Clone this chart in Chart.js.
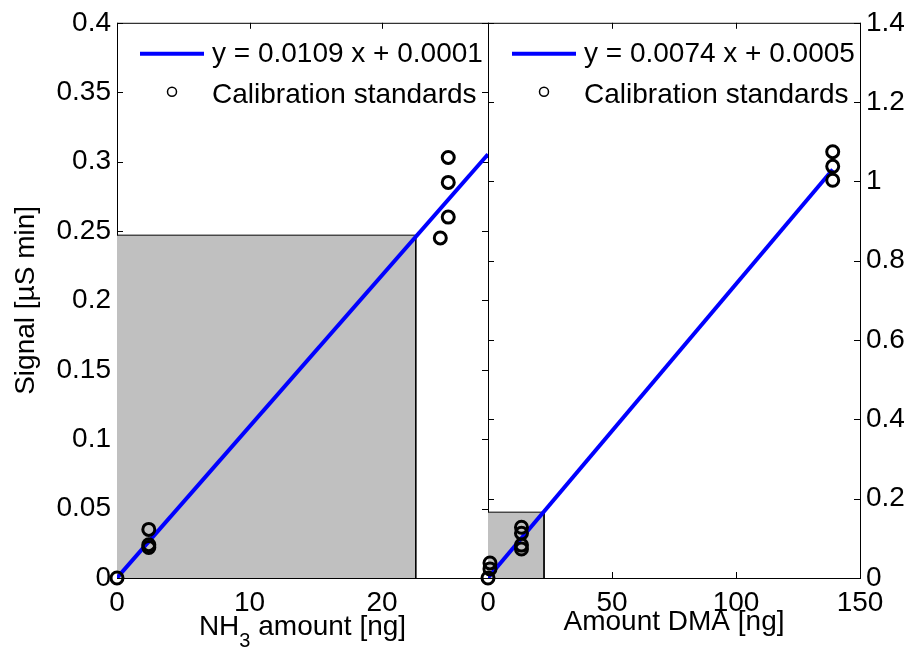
<!DOCTYPE html>
<html>
<head>
<meta charset="utf-8">
<script src="https://cdn.jsdelivr.net/npm/chart.js@4.4.0/dist/chart.umd.min.js"></script>
<style>
  html, body { margin: 0; padding: 0; background: #fff; }
  #wrap { position: relative; width: 910px; height: 649px; }
  canvas { position: absolute; left: 0; top: 0; }
</style>
</head>
<body>
<div id="wrap">
  <canvas id="nh3Chart" width="910" height="649"></canvas>
  <canvas id="dmaChart" width="910" height="649"></canvas>
</div>
<script>
/* global Chart */
const FONTFAMILY = '"Liberation Sans", Arial, Helvetica, sans-serif';
const FONTSIZE = 28;
const TICKLEN = 6;

// NH3 panel (left axis)
const nh3X = [0, 2.4, 2.4, 2.4, 25.0, 25.0, 25.0, 24.4];
const nh3Y = [0, 0.035, 0.024, 0.022, 0.303, 0.285, 0.260, 0.245];
const nh3FitX = [0, 28];
const nh3FitY = [0.0001, 0.3053];
const nh3RangeX = [0, 22.55, 22.55];
const nh3RangeY = [0.247, 0.247, 0];
const nh3XTicks = [0, 10, 20];
const nh3YTicks = [0, 0.05, 0.1, 0.15, 0.2, 0.25, 0.3, 0.35, 0.4];
const nh3FitLabel = 'y = 0.0109 x + 0.0001';

// DMA panel (right axis)
const dmaX = [0, 0.8, 0.8, 13.5, 13.5, 13.5, 13.5, 139, 139, 139];
const dmaY = [0, 0.038, 0.023, 0.128, 0.113, 0.083, 0.073, 1.075, 1.038, 1.003];
const dmaFitX = [0, 139];
const dmaFitY = [0.0005, 1.03];
const dmaRangeX = [0, 22.6, 22.6];
const dmaRangeY = [0.166, 0.166, 0];
const dmaXTicks = [0, 50, 100, 150];
const dmaYTicks = [0, 0.2, 0.4, 0.6, 0.8, 1, 1.2, 1.4];
const dmaFitLabel = 'y = 0.0074 x + 0.0005';

const pointsLabel = 'Calibration standards';

function toXY(xs, ys) {
  return xs.map((x, i) => ({ x, y: ys[i] }));
}

function font(size) {
  return { family: FONTFAMILY, size: size || FONTSIZE };
}

// matlab style box with inward ticks on all four sides
const boxAxes = {
  id: 'boxAxes',
  beforeDatasetsDraw(chart) {
    const { ctx, chartArea: a, scales } = chart;
    const yScale = scales.y;
    ctx.save();
    ctx.strokeStyle = '#000';
    ctx.lineWidth = 1;
    ctx.strokeRect(a.left + 0.5, a.top + 0.5, a.right - a.left, a.bottom - a.top);
    ctx.beginPath();
    scales.x.ticks.forEach((t) => {
      const px = Math.round(scales.x.getPixelForValue(t.value)) + 0.5;
      ctx.moveTo(px, a.bottom);
      ctx.lineTo(px, a.bottom - TICKLEN);
      ctx.moveTo(px, a.top);
      ctx.lineTo(px, a.top + TICKLEN);
    });
    yScale.ticks.forEach((t) => {
      const py = Math.round(yScale.getPixelForValue(t.value)) + 0.5;
      ctx.moveTo(a.left, py);
      ctx.lineTo(a.left + TICKLEN, py);
      ctx.moveTo(a.right, py);
      ctx.lineTo(a.right - TICKLEN, py);
    });
    ctx.stroke();
    ctx.restore();
  },
};

const legendInside = {
  id: 'legendInside',
  afterDatasetsDraw(chart) {
    const { ctx, chartArea: a } = chart;
    const pts = chart.data.datasets[0];
    const fit = chart.data.datasets[1];
    ctx.save();
    ctx.font = `${FONTSIZE}px ${FONTFAMILY}`;
    ctx.fillStyle = '#000';
    ctx.textBaseline = 'middle';
    ctx.textAlign = 'left';

    ctx.strokeStyle = fit.borderColor;
    ctx.lineWidth = fit.borderWidth;
    ctx.beginPath();
    ctx.moveTo(a.right - 348, a.top + 31);
    ctx.lineTo(a.right - 284, a.top + 31);
    ctx.stroke();
    ctx.fillText(fit.label, a.right - 276, a.top + 31);

    ctx.strokeStyle = '#000';
    ctx.lineWidth = 1.5;
    ctx.beginPath();
    ctx.arc(a.right - 316, a.top + 69, 4.5, 0, Math.PI * 2);
    ctx.stroke();
    ctx.fillText(pts.label, a.right - 276, a.top + 72);
    ctx.restore();
  },
};

// x label with a lowered 3
const nh3Title = {
  id: 'nh3Title',
  afterDraw(chart) {
    const { ctx, chartArea: a } = chart;
    const big = `${FONTSIZE}px ${FONTFAMILY}`;
    const small = `20px ${FONTFAMILY}`;
    ctx.save();
    ctx.fillStyle = '#000';
    ctx.textBaseline = 'alphabetic';
    ctx.textAlign = 'left';
    ctx.font = big;
    const w1 = ctx.measureText('NH').width;
    const w3 = ctx.measureText(' amount [ng]').width;
    ctx.font = small;
    const w2 = ctx.measureText('3').width;
    let x = (a.left + a.right) / 2 - (w1 + w2 + w3) / 2;
    ctx.font = big;
    ctx.fillText('NH', x, 635);
    x += w1;
    ctx.font = small;
    ctx.fillText('3', x, 647);
    x += w2;
    ctx.font = big;
    ctx.fillText(' amount [ng]', x, 635);
    ctx.restore();
  },
};

function makeDatasets(xs, ys, fx, fy, rx, ry, fitLabel) {
  return [{
    label: pointsLabel,
    data: toXY(xs, ys),
    showLine: false,
    pointRadius: 6,
    pointBorderWidth: 3,
    pointBorderColor: '#000',
    pointBackgroundColor: 'rgba(0,0,0,0)',
    clip: false,
  }, {
    label: fitLabel,
    data: toXY(fx, fy),
    showLine: true,
    borderColor: '#0000ff',
    borderWidth: 4,
    pointRadius: 0,
    fill: false,
  }, {
    label: 'range',
    data: toXY(rx, ry),
    showLine: true,
    borderColor: '#000',
    borderWidth: 1,
    backgroundColor: '#c0c0c0',
    pointRadius: 0,
    fill: 'origin',
  }];
}

function tickFromList(list) {
  return (scale) => {
    scale.ticks = list.map((v) => ({ value: v }));
  };
}

function xAxis(max, list, title) {
  return {
    type: 'linear',
    min: 0,
    max,
    afterBuildTicks: tickFromList(list),
    afterFit: (s) => { s.height = 71; },
    grid: { display: false, drawTicks: false },
    border: { display: false },
    ticks: { color: '#000', font: font(), padding: 8, maxRotation: 0, autoSkip: false, callback: (v) => String(v) },
    title: title ? { display: true, text: title, color: '#000', font: font(), padding: { top: 0, bottom: 10 } } : { display: false },
  };
}

function yAxis(max, list, pos, width, title) {
  return {
    type: 'linear',
    position: pos,
    min: 0,
    max,
    afterBuildTicks: tickFromList(list),
    afterFit: (s) => { s.width = width; },
    grid: { display: false, drawTicks: false },
    border: { display: false },
    ticks: { color: '#000', font: font(), padding: 6, autoSkip: false, callback: (v) => String(v) },
    title: title ? { display: true, text: title, color: '#000', font: font(), padding: { top: 9, bottom: 0 } } : { display: false },
  };
}

const baseOptions = {
  responsive: false,
  animation: false,
  devicePixelRatio: 1,
  events: [],
};

new Chart(document.getElementById('nh3Chart'), {
  type: 'scatter',
  data: { datasets: makeDatasets(nh3X, nh3Y, nh3FitX, nh3FitY, nh3RangeX, nh3RangeY, nh3FitLabel) },
  options: {
    ...baseOptions,
    layout: { padding: { left: 0, right: 422, top: 22, bottom: 0 } },
    plugins: { legend: { display: false }, tooltip: { enabled: false } },
    scales: {
      x: xAxis(28, nh3XTicks, null),
      y: yAxis(0.4, nh3YTicks, 'left', 117, 'Signal [µS min]'),
    },
  },
  plugins: [boxAxes, legendInside, nh3Title],
});

new Chart(document.getElementById('dmaChart'), {
  type: 'scatter',
  data: { datasets: makeDatasets(dmaX, dmaY, dmaFitX, dmaFitY, dmaRangeX, dmaRangeY, dmaFitLabel) },
  options: {
    ...baseOptions,
    layout: { padding: { left: 488, right: 0, top: 22, bottom: 0 } },
    plugins: { legend: { display: false }, tooltip: { enabled: false } },
    scales: {
      x: xAxis(150, dmaXTicks, 'Amount DMA [ng]'),
      y: yAxis(1.4, dmaYTicks, 'right', 50, null),
    },
  },
  plugins: [boxAxes, legendInside],
});
</script>
</body>
</html>
